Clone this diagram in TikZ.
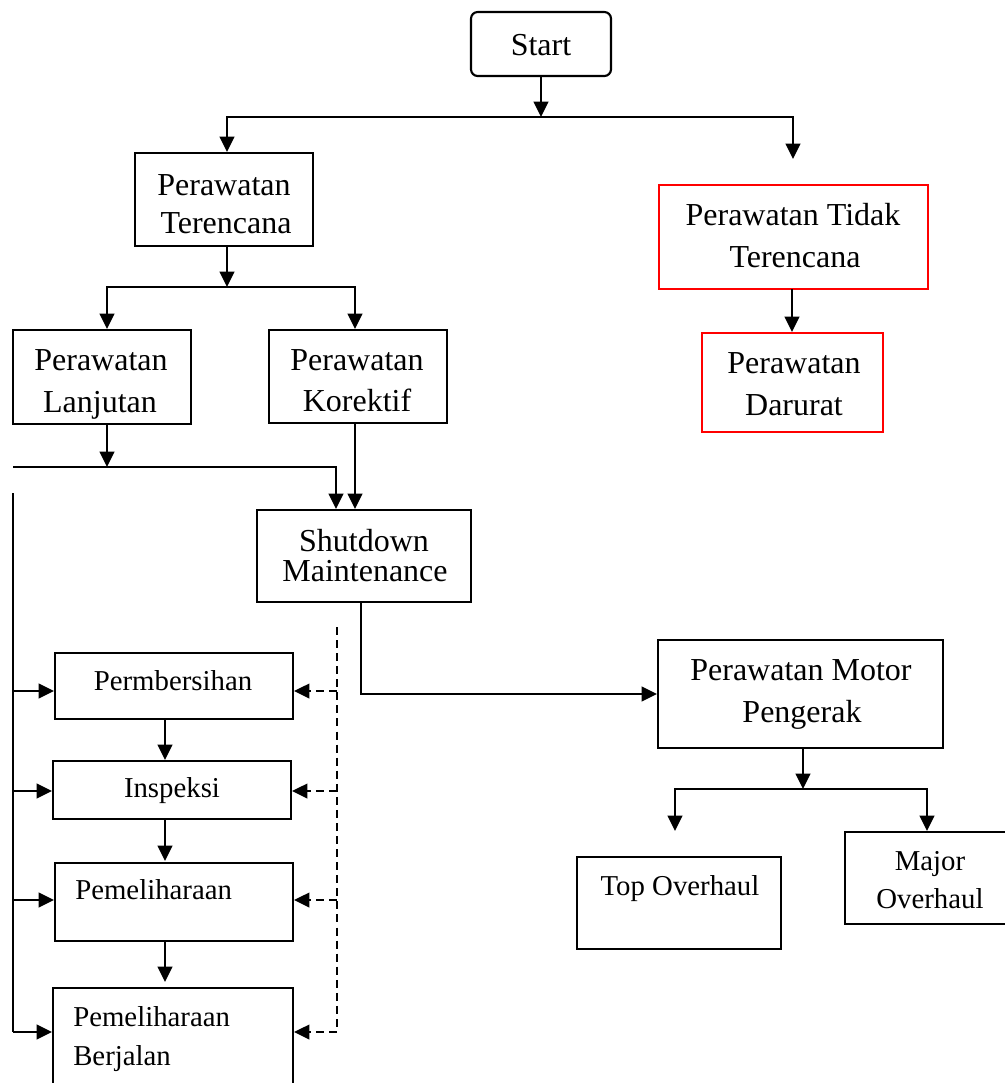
\documentclass[tikz,border=0pt]{standalone}
\usepackage{fontspec}
\setmainfont{Liberation Serif}
\usetikzlibrary{arrows.meta,fit}
\begin{document}
\begin{tikzpicture}[x=0.75pt,y=-0.75pt]
\tikzset{
 box/.style={draw, line width=1.6pt, inner sep=0pt},
 redbox/.style={draw=red, line width=1.6pt, inner sep=0pt},
 txt/.style={inner sep=0pt, anchor=base, font=\fontsize{24}{31.5}\selectfont},
 stxt/.style={inner sep=0pt, anchor=base, font=\fontsize{21.6}{28.5}\selectfont},
 ln/.style={line width=1.6pt},
 arr/.style={line width=1.6pt, -{Triangle[length=11.5pt,width=11pt]}},
 arrtwo/.style={line width=1.6pt, {Triangle[length=11.5pt,width=11pt]}-{Triangle[length=11.5pt,width=11pt]}},
 dsh/.style={line width=1.3pt, dash pattern=on 6pt off 3.8pt},
 darr/.style={dsh, -{Triangle[length=11.5pt,width=11pt]}},
}
\useasboundingbox (0,0) rectangle (1005,1083);

% boxes and texts
\node[box, rounded corners=5pt, fit={(471,12)(611,76)}] (start) {};
\node[txt] (startT) at (541,55) {Start};

\node[box, fit={(135,153)(313,246)}] (pt) {};
\node[txt] (ptT1) at (224,195) {Perawatan};
\node[txt] (ptT2) at (226,233) {Terencana};

\node[redbox, fit={(659,185)(928,289)}] (ptt) {};
\node[txt] (pttT1) at (793,225) {Perawatan Tidak};
\node[txt] (pttT2) at (795,267) {Terencana};

\node[redbox, fit={(702,333)(883,432)}] (pd) {};
\node[txt] (pdT1) at (794,373) {Perawatan};
\node[txt] (pdT2) at (794,415) {Darurat};

\node[box, fit={(13,330)(191,424)}] (pl) {};
\node[txt] (plT1) at (101,370) {Perawatan};
\node[txt] (plT2) at (100,412) {Lanjutan};

\node[box, fit={(269,330)(447,423)}] (pk) {};
\node[txt] (pkT1) at (357,370) {Perawatan};
\node[txt] (pkT2) at (357,411) {Korektif};

\node[box, fit={(257,510)(471,602)}] (sm) {};
\node[txt] (smT1) at (364,551) {Shutdown};
\node[txt] (smT2) at (365,581) {Maintenance};

\node[box, fit={(658,640)(943,748)}] (pm) {};
\node[txt] (pmT1) at (801,680) {Perawatan Motor};
\node[txt] (pmT2) at (802,722) {Pengerak};

\node[box, fit={(577,857)(781,949)}] (to) {};
\node[stxt] (toT) at (680,895) {Top Overhaul};

\node[box, fit={(845,832)(1016,924)}] (mo) {};
\node[stxt] (moT1) at (930,870) {Major};
\node[stxt] (moT2) at (930,908) {Overhaul};

\node[box, fit={(55,653)(293,719)}] (b1) {};
\node[stxt] (b1T) at (173,690) {Permbersihan};
\node[box, fit={(53,761)(291,819)}] (b2) {};
\node[stxt] (b2T) at (172,797) {Inspeksi};
\node[box, fit={(55,863)(293,941)}] (b3) {};
\node[stxt, anchor=base west] (b3T) at (75,899) {Pemeliharaan};
\node[box, fit={(53,988)(293,1100)}] (b4) {};
\node[stxt, anchor=base west] (b4T1) at (73,1026) {Pemeliharaan};
\node[stxt, anchor=base west] (b4T2) at (73,1065) {Berjalan};

% coordinates
\coordinate (j1) at (541,117);
\coordinate (j1L) at (227,117);
\coordinate (j1R) at (793,117);
\coordinate (r1) at (793,159);
\coordinate (j2) at (227,287);
\coordinate (j2L) at (107,287);
\coordinate (j2R) at (355,287);
\coordinate (rd) at (792,289);
\coordinate (j3L) at (13,467);
\coordinate (j3R) at (336,467);
\coordinate (lanj) at (107,467);
\coordinate (kor) at (355,423);
\coordinate (sdd) at (361,602);
\coordinate (sdc) at (361,694);
\coordinate (j4) at (803,789);
\coordinate (j4L) at (675,789);
\coordinate (j4R) at (927,789);
\coordinate (tl) at (675,831);
\coordinate (vt) at (13,493);
\coordinate (v1) at (13,691);
\coordinate (v2) at (13,791);
\coordinate (v3) at (13,900);
\coordinate (vb) at (13,1032);
\coordinate (dt) at (337,627);
\coordinate (d1) at (337,691);
\coordinate (d2) at (337,791);
\coordinate (d3) at (337,900);
\coordinate (db) at (337,1032);
\coordinate (c1) at (165,719);
\coordinate (c1e) at (165,760);
\coordinate (c2) at (165,819);
\coordinate (c2e) at (165,861);
\coordinate (c3) at (165,941);
\coordinate (c3e) at (165,982);

% connectors
\draw[arr] (start.south) -- (j1);
\draw[arrtwo] (j1L |- pt.north) -- (j1L) -- (j1R) -- (r1);
\draw[arr] (j2 |- pt.south) -- (j2);
\draw[arrtwo] (j2L |- pl.north) -- (j2L) -- (j2R) -- (j2R |- pk.north);
\draw[arr] (rd) -- (rd |- pd.north);
\draw[arr] (lanj |- pl.south) -- (lanj);
\draw[arr] (j3L) -- (j3R) -- (j3R |- sm.north);
\draw[arr] (kor) -- (kor |- sm.north);
\draw[arr] (sdd) -- (sdc) -- (sdc -| pm.west);
\draw[arr] (j4 |- pm.south) -- (j4);
\draw[arrtwo] (tl) -- (j4L) -- (j4R) -- (j4R |- mo.north);

\draw[ln] (vt) -- (vb);
\draw[arr] (v1) -- (v1 -| b1.west);
\draw[arr] (v2) -- (v2 -| b2.west);
\draw[arr] (v3) -- (v3 -| b3.west);
\draw[arr] (vb) -- (vb -| b4.west);

\draw[arr] (c1) -- (c1e);
\draw[arr] (c2) -- (c2e);
\draw[arr] (c3) -- (c3e);

\draw[dsh] (dt) -- (db);
\draw[darr] (d1) -- (d1 -| b1.east);
\draw[darr] (d2) -- (d2 -| b2.east);
\draw[darr] (d3) -- (d3 -| b3.east);
\draw[darr] (db) -- (db -| b4.east);
\end{tikzpicture}
\end{document}
